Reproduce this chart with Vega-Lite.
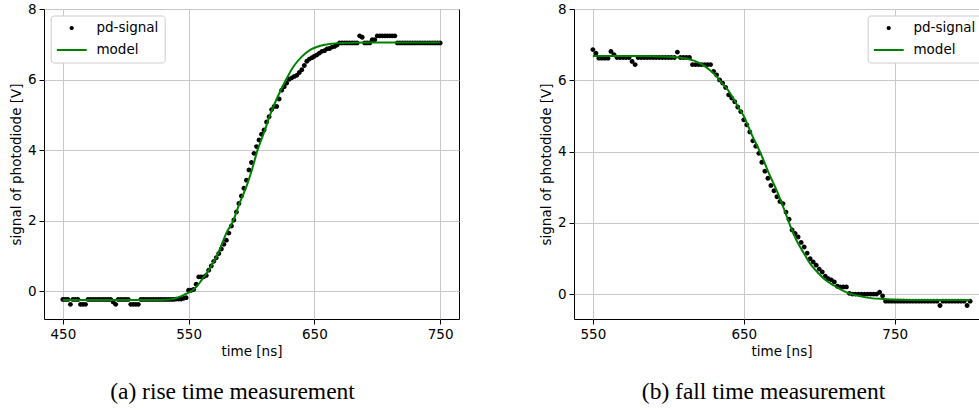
{
  "$schema": "https://vega.github.io/schema/vega-lite/v6.json",
  "autosize": {"type": "none"},
  "padding": {"left": 44, "top": 9, "right": 935, "bottom": 401},
  "background": "white",
  "bounds": "flush",
  "spacing": 115,
  "config": {
    "font": "DejaVu Sans",
    "view": {"stroke": "#000000", "strokeWidth": 1},
    "axis": {
      "labelFont": "DejaVu Sans",
      "labelFontSize": 13.5,
      "labelColor": "#000000",
      "labelPadding": 3,
      "labelFlush": false,
      "labelBound": false,
      "titleFont": "DejaVu Sans",
      "titleFontSize": 13.5,
      "titleFontWeight": "normal",
      "titleColor": "#000000",
      "titlePadding": 4,
      "tickColor": "#000000",
      "tickSize": 5,
      "tickWidth": 1,
      "domain": false,
      "gridColor": "#c8c8c8",
      "gridWidth": 1
    },
    "legend": {
      "orient": "none",
      "title": null,
      "padding": 6,
      "rowPadding": 8,
      "clipHeight": 13,
      "symbolSize": 900,
      "symbolOpacity": 1,
      "symbolStrokeWidth": 0,
      "labelOffset": 9.7,
      "labelFont": "DejaVu Sans",
      "labelFontSize": 13.5,
      "labelColor": "#000000",
      "fillColor": "#ffffff",
      "strokeColor": "#cccccc",
      "cornerRadius": 3
    },
    "title": {
      "orient": "bottom",
      "font": "Liberation Serif",
      "fontSize": 23.5,
      "fontWeight": "normal",
      "color": "#000000",
      "anchor": "middle",
      "offset": 22
    }
  },
  "datasets": {
    "rise_signal": [
      {"t": 450, "v": -0.23}, {"t": 452, "v": -0.23}, {"t": 454, "v": -0.23}, {"t": 456, "v": -0.37},
      {"t": 458, "v": -0.23}, {"t": 460, "v": -0.23}, {"t": 462, "v": -0.23}, {"t": 464, "v": -0.37},
      {"t": 466, "v": -0.37}, {"t": 468, "v": -0.37}, {"t": 470, "v": -0.23}, {"t": 472, "v": -0.23},
      {"t": 474, "v": -0.23}, {"t": 476, "v": -0.23}, {"t": 478, "v": -0.23}, {"t": 480, "v": -0.23},
      {"t": 482, "v": -0.23}, {"t": 484, "v": -0.23}, {"t": 486, "v": -0.23}, {"t": 488, "v": -0.23},
      {"t": 490, "v": -0.3}, {"t": 492, "v": -0.37}, {"t": 494, "v": -0.23}, {"t": 496, "v": -0.23},
      {"t": 498, "v": -0.23}, {"t": 500, "v": -0.23}, {"t": 502, "v": -0.23}, {"t": 504, "v": -0.37},
      {"t": 506, "v": -0.37}, {"t": 508, "v": -0.37}, {"t": 510, "v": -0.37}, {"t": 512, "v": -0.23},
      {"t": 514, "v": -0.23}, {"t": 516, "v": -0.23}, {"t": 518, "v": -0.23}, {"t": 520, "v": -0.23},
      {"t": 522, "v": -0.23}, {"t": 524, "v": -0.23}, {"t": 526, "v": -0.23}, {"t": 528, "v": -0.23},
      {"t": 530, "v": -0.23}, {"t": 532, "v": -0.23}, {"t": 534, "v": -0.23}, {"t": 536, "v": -0.23},
      {"t": 538, "v": -0.23}, {"t": 540, "v": -0.22}, {"t": 542, "v": -0.22}, {"t": 544, "v": -0.22},
      {"t": 546, "v": -0.2}, {"t": 548, "v": -0.18}, {"t": 550, "v": 0.03}, {"t": 552, "v": 0.03},
      {"t": 554, "v": 0.05}, {"t": 556, "v": 0.2}, {"t": 558, "v": 0.41}, {"t": 560, "v": 0.41},
      {"t": 562, "v": 0.41}, {"t": 564, "v": 0.45}, {"t": 566, "v": 0.6}, {"t": 568, "v": 0.72},
      {"t": 570, "v": 0.85}, {"t": 572, "v": 0.95}, {"t": 574, "v": 1.07}, {"t": 576, "v": 1.2},
      {"t": 578, "v": 1.33}, {"t": 580, "v": 1.45}, {"t": 582, "v": 1.65}, {"t": 584, "v": 1.85},
      {"t": 586, "v": 2.02}, {"t": 588, "v": 2.25}, {"t": 590, "v": 2.49}, {"t": 592, "v": 2.7},
      {"t": 594, "v": 2.92}, {"t": 596, "v": 3.15}, {"t": 598, "v": 3.44}, {"t": 600, "v": 3.65},
      {"t": 602, "v": 3.91}, {"t": 604, "v": 4.1}, {"t": 606, "v": 4.29}, {"t": 608, "v": 4.45},
      {"t": 610, "v": 4.57}, {"t": 612, "v": 4.8}, {"t": 614, "v": 4.95}, {"t": 616, "v": 5.15},
      {"t": 618, "v": 5.24}, {"t": 620, "v": 5.24}, {"t": 622, "v": 5.45}, {"t": 624, "v": 5.7},
      {"t": 626, "v": 5.8}, {"t": 628, "v": 5.9}, {"t": 630, "v": 6.01}, {"t": 632, "v": 6.05},
      {"t": 634, "v": 6.09}, {"t": 636, "v": 6.12}, {"t": 638, "v": 6.2}, {"t": 640, "v": 6.28},
      {"t": 642, "v": 6.4}, {"t": 644, "v": 6.52}, {"t": 646, "v": 6.58}, {"t": 648, "v": 6.62},
      {"t": 650, "v": 6.66}, {"t": 652, "v": 6.7}, {"t": 654, "v": 6.75}, {"t": 656, "v": 6.8},
      {"t": 658, "v": 6.82}, {"t": 660, "v": 6.87}, {"t": 662, "v": 6.88}, {"t": 664, "v": 6.92},
      {"t": 666, "v": 6.94}, {"t": 668, "v": 6.98}, {"t": 670, "v": 7.04}, {"t": 672, "v": 7.04},
      {"t": 674, "v": 7.04}, {"t": 676, "v": 7.04}, {"t": 678, "v": 7.04}, {"t": 680, "v": 7.04},
      {"t": 682, "v": 7.04}, {"t": 684, "v": 7.04}, {"t": 686, "v": 7.24}, {"t": 688, "v": 7.2},
      {"t": 690, "v": 7.04}, {"t": 692, "v": 7.04}, {"t": 694, "v": 7.04}, {"t": 696, "v": 7.13},
      {"t": 698, "v": 7.13}, {"t": 700, "v": 7.24}, {"t": 702, "v": 7.24}, {"t": 704, "v": 7.24},
      {"t": 706, "v": 7.24}, {"t": 708, "v": 7.24}, {"t": 710, "v": 7.24}, {"t": 712, "v": 7.24},
      {"t": 714, "v": 7.24}, {"t": 716, "v": 7.04}, {"t": 718, "v": 7.04}, {"t": 720, "v": 7.04},
      {"t": 722, "v": 7.04}, {"t": 724, "v": 7.04}, {"t": 726, "v": 7.04}, {"t": 728, "v": 7.04},
      {"t": 730, "v": 7.04}, {"t": 732, "v": 7.04}, {"t": 734, "v": 7.04}, {"t": 736, "v": 7.04},
      {"t": 738, "v": 7.04}, {"t": 740, "v": 7.04}, {"t": 742, "v": 7.04}, {"t": 744, "v": 7.04},
      {"t": 746, "v": 7.04}, {"t": 748, "v": 7.04}, {"t": 750, "v": 7.04}
    ],
    "rise_model": [
      {"t": 450, "v": -0.25}, {"t": 520, "v": -0.25}, {"t": 535, "v": -0.23}, {"t": 542, "v": -0.17},
      {"t": 548, "v": -0.07}, {"t": 552, "v": 0.0}, {"t": 556, "v": 0.12}, {"t": 560, "v": 0.3},
      {"t": 565, "v": 0.55}, {"t": 570, "v": 0.85}, {"t": 572.5, "v": 1.0}, {"t": 576, "v": 1.3},
      {"t": 580, "v": 1.65}, {"t": 585.5, "v": 2.0}, {"t": 590, "v": 2.45}, {"t": 596.3, "v": 3.0},
      {"t": 600, "v": 3.4}, {"t": 604.8, "v": 4.0}, {"t": 610, "v": 4.5}, {"t": 614.8, "v": 5.0},
      {"t": 620, "v": 5.45}, {"t": 627.5, "v": 6.0}, {"t": 633, "v": 6.35}, {"t": 640, "v": 6.65},
      {"t": 647, "v": 6.85}, {"t": 654, "v": 6.95}, {"t": 662, "v": 7.01}, {"t": 672, "v": 7.04},
      {"t": 690, "v": 7.05}, {"t": 750, "v": 7.05}
    ],
    "fall_signal": [
      {"t": 550, "v": 6.86}, {"t": 552, "v": 6.76}, {"t": 554, "v": 6.62}, {"t": 556, "v": 6.62},
      {"t": 558, "v": 6.62}, {"t": 560, "v": 6.62}, {"t": 562, "v": 6.81}, {"t": 564, "v": 6.72},
      {"t": 566, "v": 6.64}, {"t": 568, "v": 6.64}, {"t": 570, "v": 6.64}, {"t": 572, "v": 6.64},
      {"t": 574, "v": 6.64}, {"t": 576, "v": 6.53}, {"t": 578, "v": 6.44}, {"t": 580, "v": 6.64},
      {"t": 582, "v": 6.64}, {"t": 584, "v": 6.64}, {"t": 586, "v": 6.64}, {"t": 588, "v": 6.64},
      {"t": 590, "v": 6.64}, {"t": 592, "v": 6.64}, {"t": 594, "v": 6.64}, {"t": 596, "v": 6.64},
      {"t": 598, "v": 6.64}, {"t": 600, "v": 6.64}, {"t": 602, "v": 6.64}, {"t": 604, "v": 6.64},
      {"t": 606, "v": 6.79}, {"t": 608, "v": 6.64}, {"t": 610, "v": 6.64}, {"t": 612, "v": 6.64},
      {"t": 614, "v": 6.64}, {"t": 616, "v": 6.44}, {"t": 618, "v": 6.44}, {"t": 620, "v": 6.44},
      {"t": 622, "v": 6.44}, {"t": 624, "v": 6.44}, {"t": 626, "v": 6.44}, {"t": 628, "v": 6.44},
      {"t": 630, "v": 6.25}, {"t": 632, "v": 6.15}, {"t": 634, "v": 6.01}, {"t": 636, "v": 5.92},
      {"t": 638, "v": 5.8}, {"t": 640, "v": 5.59}, {"t": 642, "v": 5.5}, {"t": 644, "v": 5.4},
      {"t": 646, "v": 5.25}, {"t": 648, "v": 5.12}, {"t": 650, "v": 4.89}, {"t": 652, "v": 4.75},
      {"t": 654, "v": 4.55}, {"t": 656, "v": 4.3}, {"t": 658, "v": 4.15}, {"t": 660, "v": 3.95},
      {"t": 662, "v": 3.7}, {"t": 664, "v": 3.45}, {"t": 666, "v": 3.25}, {"t": 668, "v": 3.05},
      {"t": 670, "v": 2.9}, {"t": 672, "v": 2.73}, {"t": 674, "v": 2.6}, {"t": 676, "v": 2.54},
      {"t": 678, "v": 2.3}, {"t": 680, "v": 2.1}, {"t": 682, "v": 1.8}, {"t": 684, "v": 1.7},
      {"t": 686, "v": 1.6}, {"t": 688, "v": 1.45}, {"t": 690, "v": 1.32}, {"t": 692, "v": 1.15},
      {"t": 694, "v": 0.99}, {"t": 696, "v": 0.9}, {"t": 698, "v": 0.81}, {"t": 700, "v": 0.7},
      {"t": 702, "v": 0.62}, {"t": 704, "v": 0.5}, {"t": 706, "v": 0.43}, {"t": 708, "v": 0.4},
      {"t": 710, "v": 0.34}, {"t": 712, "v": 0.22}, {"t": 714, "v": 0.2}, {"t": 716, "v": 0.2},
      {"t": 718, "v": 0.2}, {"t": 720, "v": 0.02}, {"t": 722, "v": 0.0}, {"t": 724, "v": 0.0},
      {"t": 726, "v": 0.0}, {"t": 728, "v": 0.0}, {"t": 730, "v": 0.0}, {"t": 732, "v": 0.0},
      {"t": 734, "v": 0.0}, {"t": 736, "v": 0.0}, {"t": 738, "v": 0.0}, {"t": 740, "v": 0.05},
      {"t": 742, "v": -0.05}, {"t": 744, "v": -0.2}, {"t": 746, "v": -0.2}, {"t": 748, "v": -0.2},
      {"t": 750, "v": -0.2}, {"t": 752, "v": -0.2}, {"t": 754, "v": -0.2}, {"t": 756, "v": -0.2},
      {"t": 758, "v": -0.2}, {"t": 760, "v": -0.2}, {"t": 762, "v": -0.2}, {"t": 764, "v": -0.2},
      {"t": 766, "v": -0.2}, {"t": 768, "v": -0.2}, {"t": 770, "v": -0.2}, {"t": 772, "v": -0.2},
      {"t": 774, "v": -0.2}, {"t": 776, "v": -0.2}, {"t": 778, "v": -0.2}, {"t": 780, "v": -0.32},
      {"t": 782, "v": -0.2}, {"t": 784, "v": -0.2}, {"t": 786, "v": -0.2}, {"t": 788, "v": -0.2},
      {"t": 790, "v": -0.2}, {"t": 792, "v": -0.2}, {"t": 794, "v": -0.2}, {"t": 796, "v": -0.2},
      {"t": 798, "v": -0.32}, {"t": 800, "v": -0.2}
    ],
    "fall_model": [
      {"t": 550, "v": 6.68}, {"t": 580, "v": 6.68}, {"t": 600, "v": 6.66}, {"t": 610, "v": 6.62},
      {"t": 617, "v": 6.55}, {"t": 622, "v": 6.45}, {"t": 627, "v": 6.3}, {"t": 631, "v": 6.15},
      {"t": 635, "v": 5.95}, {"t": 640, "v": 5.7}, {"t": 643.6, "v": 5.45}, {"t": 647, "v": 5.2},
      {"t": 650.2, "v": 4.98}, {"t": 655, "v": 4.5}, {"t": 661.2, "v": 3.95}, {"t": 666, "v": 3.45},
      {"t": 672.2, "v": 2.87}, {"t": 677, "v": 2.35}, {"t": 681, "v": 1.89}, {"t": 685, "v": 1.5},
      {"t": 689.9, "v": 1.14}, {"t": 694, "v": 0.85}, {"t": 698.7, "v": 0.62}, {"t": 704, "v": 0.4},
      {"t": 709.7, "v": 0.24}, {"t": 715, "v": 0.11}, {"t": 720.7, "v": 0.01}, {"t": 726, "v": -0.05},
      {"t": 731.7, "v": -0.1}, {"t": 742.7, "v": -0.14}, {"t": 753.7, "v": -0.16}, {"t": 770, "v": -0.17},
      {"t": 800, "v": -0.17}
    ]
  },
  "hconcat": [
    {
      "width": 415,
      "height": 310,
      "title": {"text": "(a) rise time measurement", "dx": -19},
      "layer": [
        {
          "data": {"name": "rise_signal"},
          "mark": {"type": "point", "filled": true, "size": 1200, "opacity": 1, "strokeWidth": 0},
          "encoding": {
            "x": {"field": "t", "type": "quantitative", "scale": {"domain": [435, 765], "nice": false, "zero": false}, "axis": {"values": [450, 550, 650, 750], "title": "time [ns]"}},
            "y": {"field": "v", "type": "quantitative", "scale": {"domain": [-0.785, 8], "nice": false, "zero": false}, "axis": {"values": [0, 2, 4, 6, 8], "title": "signal of photodiode [V]"}},
            "color": {
              "datum": "pd-signal",
              "type": "nominal",
              "scale": {"domain": ["pd-signal", "model"], "range": ["#000000", "#008000"]},
              "legend": {"legendX": 6.7, "legendY": 6.5}
            },
            "shape": {
              "datum": "pd-signal",
              "type": "nominal",
              "scale": {"domain": ["pd-signal", "model"], "range": ["M-0.14,0A0.14,0.14 0 1,0 0.14,0A0.14,0.14 0 1,0 -0.14,0Z", "M-1,-0.067H1V0.067H-1Z"]},
              "legend": {"legendX": 6.7, "legendY": 6.5}
            }
          }
        },
        {
          "data": {"name": "rise_model"},
          "mark": {"type": "line", "strokeWidth": 2, "interpolate": "monotone", "color": "#008000"},
          "encoding": {
            "x": {"field": "t", "type": "quantitative"},
            "y": {"field": "v", "type": "quantitative"}
          }
        }
      ]
    },
    {
      "width": 415,
      "height": 310,
      "title": {"text": "(b) fall time measurement", "dx": -18},
      "layer": [
        {
          "data": {"name": "fall_signal"},
          "mark": {"type": "point", "filled": true, "size": 1200, "opacity": 1, "strokeWidth": 0},
          "encoding": {
            "x": {"field": "t", "type": "quantitative", "scale": {"domain": [537.5, 812.5], "nice": false, "zero": false}, "axis": {"values": [550, 650, 750], "title": "time [ns]"}},
            "y": {"field": "v", "type": "quantitative", "scale": {"domain": [-0.7, 8], "nice": false, "zero": false}, "axis": {"values": [0, 2, 4, 6, 8], "title": "signal of photodiode [V]"}},
            "color": {
              "datum": "pd-signal",
              "type": "nominal",
              "scale": {"domain": ["pd-signal", "model"], "range": ["#000000", "#008000"]},
              "legend": {"legendX": 293.7, "legendY": 6.5}
            },
            "shape": {
              "datum": "pd-signal",
              "type": "nominal",
              "scale": {"domain": ["pd-signal", "model"], "range": ["M-0.14,0A0.14,0.14 0 1,0 0.14,0A0.14,0.14 0 1,0 -0.14,0Z", "M-1,-0.067H1V0.067H-1Z"]},
              "legend": {"legendX": 293.7, "legendY": 6.5}
            }
          }
        },
        {
          "data": {"name": "fall_model"},
          "mark": {"type": "line", "strokeWidth": 2, "interpolate": "monotone", "color": "#008000"},
          "encoding": {
            "x": {"field": "t", "type": "quantitative"},
            "y": {"field": "v", "type": "quantitative"}
          }
        }
      ]
    }
  ],
  "resolve": {"scale": {"color": "independent", "shape": "independent"}}
}
